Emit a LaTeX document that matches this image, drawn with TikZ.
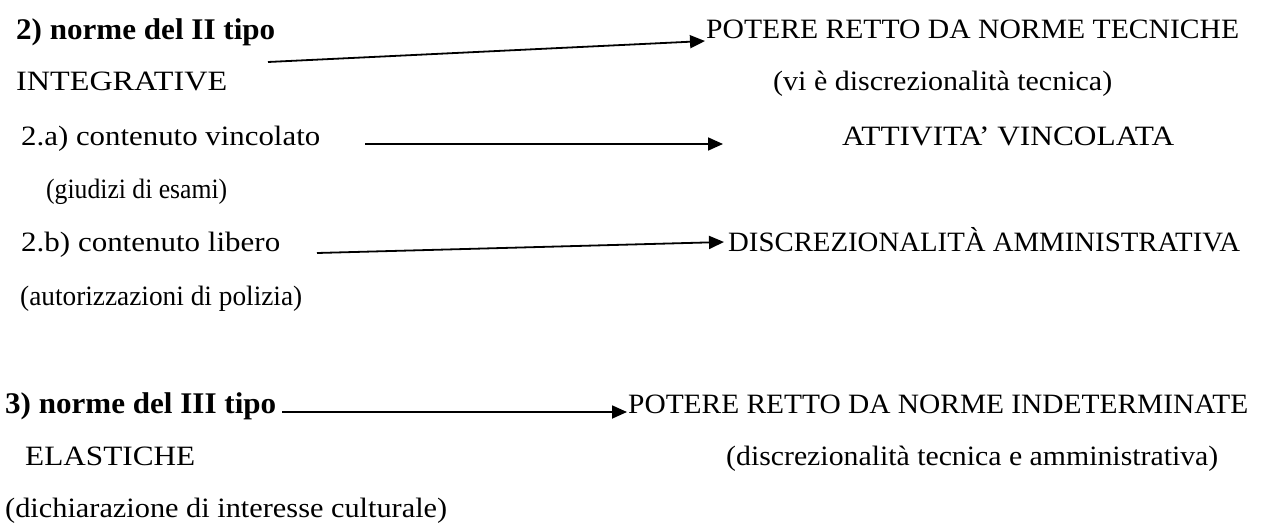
\documentclass[tikz,border=0pt]{standalone}
\usepackage{fontspec}
\setmainfont{Liberation Serif}
\usepackage{graphicx}
\usetikzlibrary{arrows.meta,calc}
\newcommand{\fitw}[2]{\resizebox{#1pt}{\height}{#2}}
\begin{document}
\begin{tikzpicture}[x=1pt,y=-1pt,
  txt/.style={anchor=base west,inner sep=0pt,font=\fontsize{28}{34}\selectfont},
  bold/.style={anchor=base west,inner sep=0pt,font=\fontsize{30}{36}\selectfont\bfseries},
  arr/.style={line width=1.8pt,-{Triangle[length=15pt,width=13pt]}}]
\useasboundingbox (0,0) rectangle (1264,527);
\node[bold] (t2) at (16,39) {\fitw{259}{2) norme del II tipo}};
\node[txt] (integ) at (16,90) {\fitw{211}{INTEGRATIVE}};
\node[txt] (p1) at (706,39) {\fitw{533}{POTERE RETTO DA NORME TECNICHE}};
\node[txt] (d1) at (773,90) {\fitw{339}{(vi è discrezionalità tecnica)}};
\node[txt] (a2) at (21,145) {\fitw{299}{2.a) contenuto vincolato}};
\node[txt] (av) at (842,145) {\fitw{332}{ATTIVITA' VINCOLATA}};
\node[txt] (gd) at (46,198) {\fitw{181}{(giudizi di esami)}};
\node[txt] (b2) at (21,251) {\fitw{259}{2.b) contenuto libero}};
\node[txt] (da) at (728,251) {\fitw{512}{DISCREZIONALITÀ AMMINISTRATIVA}};
\node[txt] (au) at (20,305) {\fitw{282}{(autorizzazioni di polizia)}};
\node[bold] (t3) at (5,413) {\fitw{271}{3) norme del III tipo}};
\node[txt] (p3) at (628,413) {\fitw{620}{POTERE RETTO DA NORME INDETERMINATE}};
\node[txt] (el) at (25,465) {\fitw{170}{ELASTICHE}};
\node[txt] (d3) at (726,465) {\fitw{492}{(discrezionalità tecnica e amministrativa)}};
\node[txt] (dc) at (5,517) {\fitw{442}{(dichiarazione di interesse culturale)}};
\coordinate (s1) at (268,62);
\coordinate (s2) at (365,144);
\coordinate (e2) at (723,144);
\coordinate (s3) at (317,253);
\coordinate (s4) at (282,412);
\draw[arr] (s1) -- ($(p1.base west)+(-1,2)$);
\draw[arr] (s2) -- (e2);
\draw[arr] (s3) -- ($(da.base west)+(-4,-9)$);
\draw[arr] (s4) -- ($(p3.base west)+(-1,-1)$);
\end{tikzpicture}
\end{document}
